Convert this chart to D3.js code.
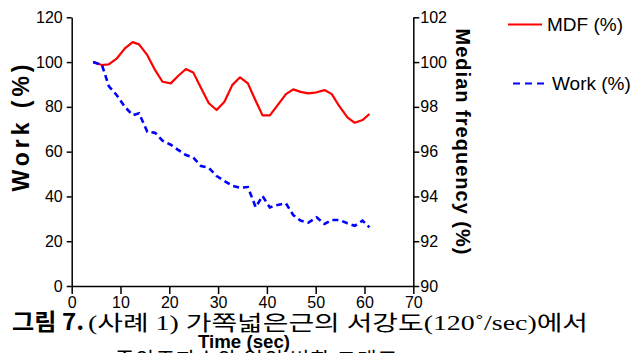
<!DOCTYPE html>
<html><head><meta charset="utf-8">
<script src="https://cdn.jsdelivr.net/npm/d3@7"></script>
<style>
html,body{margin:0;padding:0;background:#fff;overflow:hidden}
svg{display:block}
</style></head>
<body>
<script>
const time = [4.4, 6.2, 7.6, 9.2, 10.9, 12.5, 13.8, 15.5, 17.1, 18.6, 20.3, 21.8, 23.4, 24.9, 26.5, 28.1, 29.7, 31.3, 32.9, 34.5, 36.1, 37.7, 39.1, 40.6, 42.2, 43.9, 45.4, 46.9, 48.5, 50.2, 51.8, 53.3, 54.8, 56.5, 58.0, 59.6, 61.0];
const mdf = [100.0, 99.87, 99.9, 100.15, 100.61, 100.89, 100.79, 100.31, 99.64, 99.12, 99.05, 99.38, 99.69, 99.54, 98.84, 98.16, 97.86, 98.23, 98.97, 99.32, 99.05, 98.27, 97.62, 97.62, 98.08, 98.57, 98.78, 98.67, 98.6, 98.65, 98.75, 98.57, 98.04, 97.53, 97.29, 97.41, 97.68];
const work = [100, 98.7, 89.3, 85.3, 80.0, 76.3, 77.1, 68.9, 68.4, 64.9, 63.1, 60.8, 58.5, 57.4, 53.6, 52.8, 49.1, 46.9, 44.8, 43.9, 44.2, 35.2, 40.2, 35.1, 36.2, 36.9, 31.7, 29.2, 28.3, 30.7, 27.7, 29.5, 29.5, 28.0, 26.9, 29.2, 26.2];
const xTicks = [0, 10, 20, 30, 40, 50, 60, 70];
const leftTicks = [0, 20, 40, 60, 80, 100, 120];
const rightTicks = [90, 92, 94, 96, 98, 100, 102];
const seriesNames = ["MDF (%)", "Work (%)"];
const titles = {x: "Time (sec)", yLeft: "Work (%)", yRight: "Median frequency (%)"};
const caption1a = "그림 7.";
const caption1b = "(사례 1) 가쪽넓은근의 서강도(120˚/sec)에서";
const caption2 = "중앙주파수와 일의 변화 그래프";

const W = 632, H = 353;
const svg = d3.select("body").append("svg").attr("width", W).attr("height", H)
  .style("font-family", "'Liberation Sans', Arial, sans-serif");

const x = d3.scaleLinear().domain([0, 70]).range([71.7, 413.3]);
const yL = d3.scaleLinear().domain([0, 120]).range([286, 17.3]);
const yR = d3.scaleLinear().domain([90, 102]).range([286, 17.3]);

// lines
const lineMdf = d3.line().x((d, i) => x(time[i])).y(d => yR(d));
const lineWork = d3.line().x((d, i) => x(time[i])).y(d => yL(d));

svg.append("path").datum(mdf).attr("d", lineMdf)
  .attr("fill", "none").attr("stroke", "#ff0000").attr("stroke-width", 2.2)
  .attr("stroke-linejoin", "round");
svg.append("path").datum(work).attr("d", lineWork)
  .attr("fill", "none").attr("stroke", "#0000ff").attr("stroke-width", 2.6)
  .attr("stroke-dasharray", "6,4");

function styleAxis(g) {
  g.selectAll("path,line").attr("stroke", "#000").attr("stroke-width", 1.5);
  g.selectAll("text").attr("fill", "#000").style("font-size", "16px")
    .style("font-family", "'Liberation Sans', Arial, sans-serif");
}

const gx = svg.append("g").attr("transform", "translate(0,286)")
  .call(d3.axisBottom(x).tickValues(xTicks).tickSize(8).tickSizeOuter(0).tickPadding(3).tickFormat(d3.format("d")));
styleAxis(gx);

const gl = svg.append("g").attr("transform", "translate(71.7,0)")
  .call(d3.axisLeft(yL).tickValues(leftTicks).tickSize(5).tickSizeOuter(0).tickPadding(4).tickFormat(d3.format("d")));
styleAxis(gl);

const gr = svg.append("g").attr("transform", "translate(413.3,0)")
  .call(d3.axisRight(yR).tickValues(rightTicks).tickSize(6).tickSizeOuter(0).tickPadding(1).tickFormat(d3.format("d")));
styleAxis(gr);

// axis titles
svg.append("text").text(titles.yLeft)
  .attr("transform", "translate(29,128) rotate(-90)")
  .attr("text-anchor", "middle").attr("font-weight", "bold").attr("font-size", 23)
  .attr("textLength", 127).attr("lengthAdjust", "spacing");
svg.append("text").text(titles.yRight)
  .attr("transform", "translate(456,141.5) rotate(90)")
  .attr("text-anchor", "middle").attr("font-weight", "bold").attr("font-size", 20)
  .attr("textLength", 226).attr("lengthAdjust", "spacing");

// legend
const legend = [
  {name: seriesNames[0], color: "#ff0000", dash: null, x1: 508, x2: 542, y: 24.5, tx: 547},
  {name: seriesNames[1], color: "#0000ff", dash: "7,5", x1: 513, x2: 548, y: 83.5, tx: 552}
];
legend.forEach(l => {
  svg.append("line").attr("x1", l.x1).attr("x2", l.x2).attr("y1", l.y).attr("y2", l.y)
    .attr("stroke", l.color).attr("stroke-width", 2.2).attr("stroke-dasharray", l.dash);
  svg.append("text").text(l.name).attr("x", l.tx).attr("y", l.y).attr("dy", "0.35em")
    .attr("font-size", 19).attr("fill", "#000");
});

// caption
svg.append("text").text(caption1a).attr("x", 12).attr("y", 330)
  .attr("font-weight", "bold").attr("font-size", 23)
  .style("font-family", "'Noto Sans CJK KR', 'Liberation Sans', sans-serif")
  .attr("textLength", 72).attr("lengthAdjust", "spacingAndGlyphs");
svg.append("text").text(caption1b).attr("x", 88).attr("y", 330)
  .attr("font-size", 21)
  .style("font-family", "'Liberation Serif', 'Noto Sans CJK KR', serif")
  .attr("textLength", 500).attr("lengthAdjust", "spacingAndGlyphs");
svg.append("text").text(titles.x).attr("x", 244).attr("y", 348)
  .attr("text-anchor", "middle").attr("font-weight", "bold").attr("font-size", 19)
  .attr("textLength", 92).attr("lengthAdjust", "spacingAndGlyphs");
svg.append("text").text(caption2).attr("x", 115).attr("y", 367)
  .attr("font-size", 21)
  .style("font-family", "'Noto Sans CJK KR', sans-serif")
  .attr("textLength", 282).attr("lengthAdjust", "spacing");
</script>
</body></html>
